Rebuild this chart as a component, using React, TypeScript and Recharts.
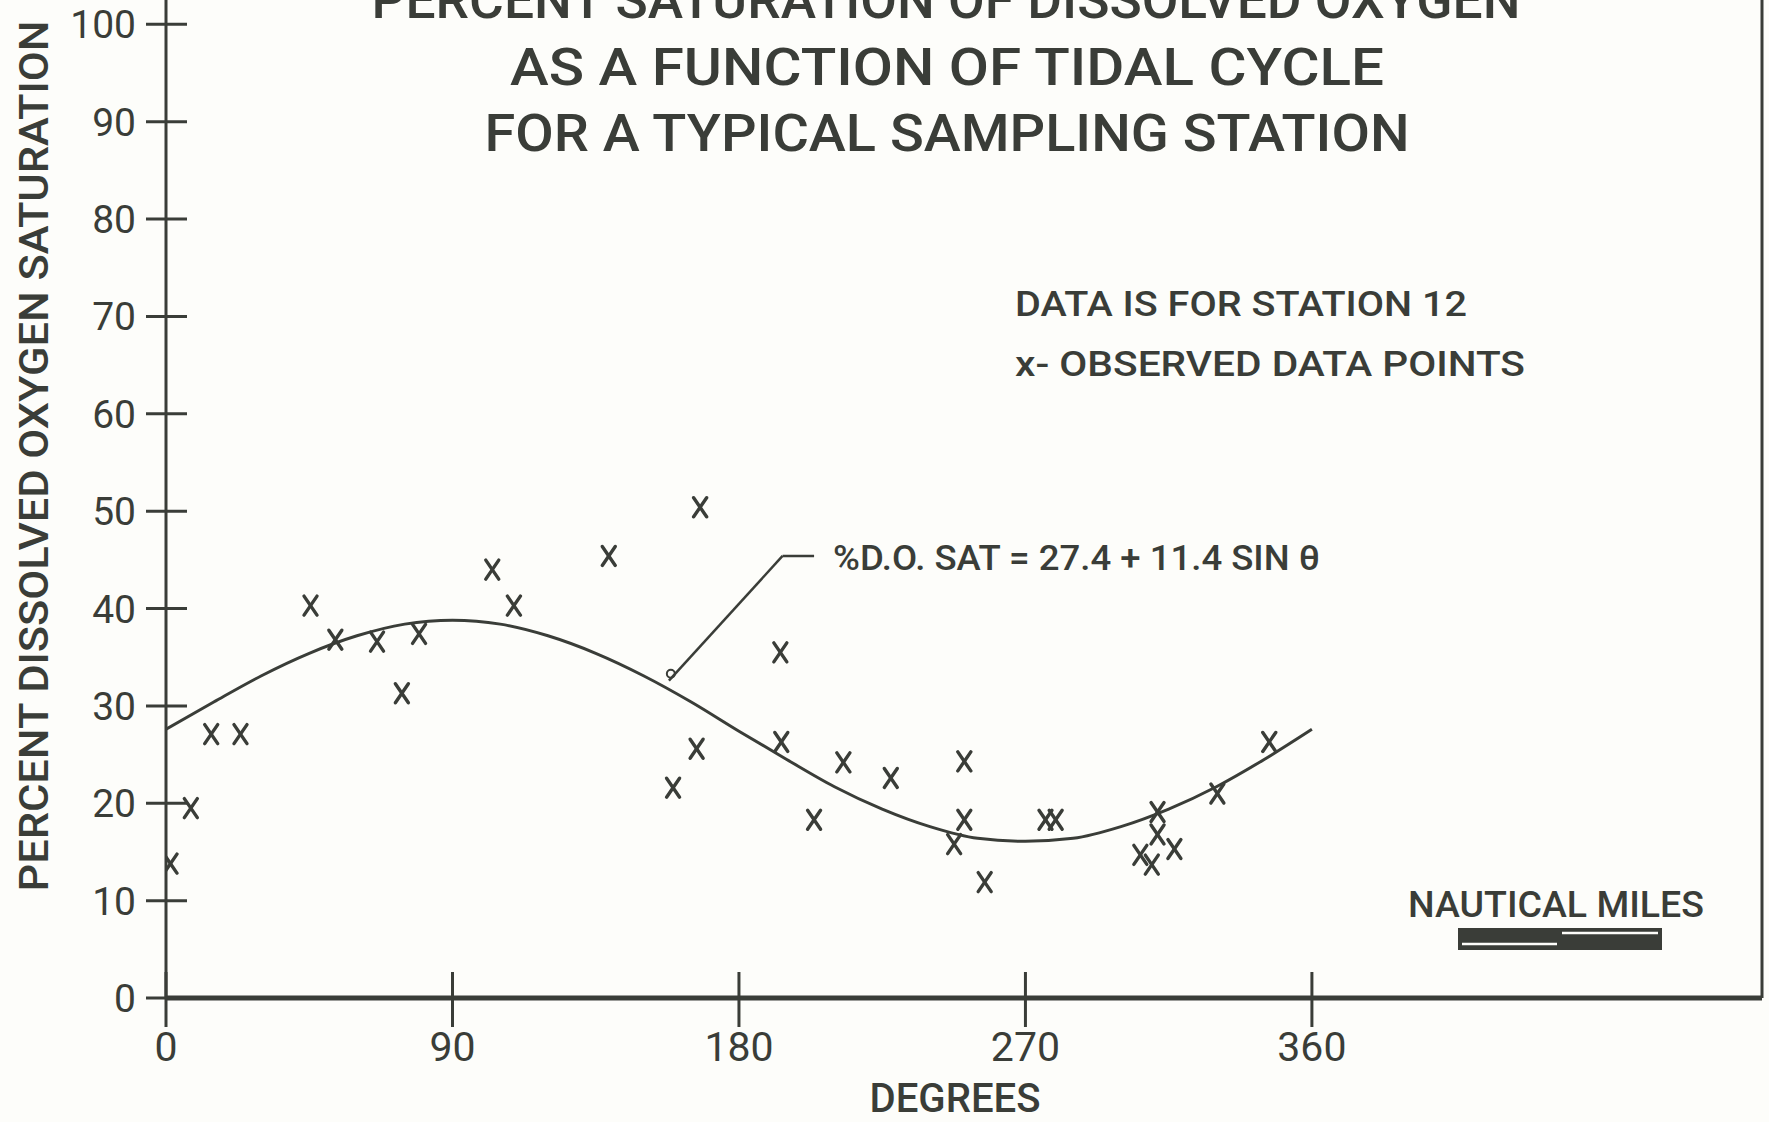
import { ComposedChart, Line, Scatter, XAxis, YAxis, ReferenceLine, ReferenceDot } from 'recharts'

const xTicks = [0, 90, 180, 270, 360]
const yTicks = [0, 10, 20, 30, 40, 50, 60, 70, 80, 90, 100]

// observed points (x marks)
const obsDeg = [1.4, 7.8, 14.2, 23.4, 45.4, 53.2, 66.3, 74.1, 79.5, 102.5, 109.3, 139.1, 159.3, 166.7, 167.8, 193.0, 193.3, 203.6, 212.8, 227.7, 247.6, 250.8, 250.8, 257.2, 276.3, 279.5, 306.1, 309.7, 311.5, 311.5, 316.8, 330.3, 346.6]
const obsPct = [13.8, 19.5, 27.1, 27.1, 40.3, 36.8, 36.6, 31.3, 37.4, 44.0, 40.3, 45.4, 21.6, 25.6, 50.4, 35.5, 26.3, 18.3, 24.2, 22.6, 15.8, 24.3, 18.3, 11.9, 18.3, 18.3, 14.7, 13.7, 19.1, 16.8, 15.3, 21.0, 26.3]

// fitted curve, read every 15 degrees
const curveDeg = [0, 15, 30, 45, 60, 75, 90, 105, 120, 135, 150, 165, 180, 195, 210, 225, 240, 255, 270, 285, 300, 315, 330, 345, 360]
const curvePct = [27.6, 30.4, 33.1, 35.4, 37.2, 38.4, 38.8, 38.4, 37.2, 35.4, 33.1, 30.4, 27.4, 24.5, 21.7, 19.4, 17.6, 16.4, 16.1, 16.4, 17.6, 19.4, 21.7, 24.5, 27.6]

const observed = obsDeg.map((deg, i) => ({ deg, pct: obsPct[i] }))
const curve = curveDeg.map((deg, i) => ({ deg, pct: curvePct[i] }))

const X_MAX = 501.4
const Y_MAX = 102.5
const INK = '#3a3d38'
const PAPER = '#fdfdfa'
const FONT = "Roboto, 'DejaVu Sans', sans-serif"

const YTick = ({ x, y, payload }: any) => (
  <g>
    <line x1={x - 20} x2={x + 21} y1={y} y2={y} stroke={INK} strokeWidth={3} />
    <text x={x - 30} y={y} dy="0.36em" textAnchor="end" fontFamily={FONT} fontSize={39} fill={INK}>
      {payload.value}
    </text>
  </g>
)

const XTick = ({ x, y, payload }: any) => (
  <g>
    <line x1={x} x2={x} y1={y - 26} y2={y + 29} stroke={INK} strokeWidth={3} />
    <text x={x} y={y + 63} textAnchor="middle" fontFamily={FONT} fontSize={41} fill={INK}>
      {payload.value}
    </text>
  </g>
)

const XMark = ({ cx, cy }: any) => (
  <g stroke={INK} strokeWidth={3.4} strokeLinecap="round">
    <line x1={cx - 6.5} y1={cy - 9.5} x2={cx + 6.5} y2={cy + 9.5} />
    <line x1={cx + 6.5} y1={cy - 9.5} x2={cx - 6.5} y2={cy + 9.5} />
  </g>
)

const txt = { fontFamily: FONT, fill: INK }

const App = () => {
  const pageStyle: React.CSSProperties = {
    position: 'absolute',
    top: 0,
    left: 0,
    width: 1769,
    height: 1122,
    background: PAPER,
    overflow: 'hidden',
  }

  return (
    <div style={pageStyle}>
      <ComposedChart width={1769} height={1122} margin={{ top: 0, right: 7, bottom: 64, left: 106 }}>
        <XAxis
          type="number"
          dataKey="deg"
          domain={[0, X_MAX]}
          ticks={xTicks}
          interval={0}
          height={60}
          tickSize={0}
          tickMargin={0}
          tick={<XTick />}
          axisLine={{ stroke: INK, strokeWidth: 5 }}
          allowDataOverflow
        />
        <YAxis
          type="number"
          dataKey="pct"
          domain={[0, Y_MAX]}
          ticks={yTicks}
          interval={0}
          width={60}
          tickSize={0}
          tickMargin={0}
          tick={<YTick />}
          axisLine={{ stroke: INK, strokeWidth: 3 }}
          allowDataOverflow
        />
        <ReferenceLine x={X_MAX} stroke={INK} strokeWidth={3} />
        <Line
          data={curve}
          dataKey="pct"
          type="monotone"
          stroke={INK}
          strokeWidth={3}
          dot={false}
          activeDot={false}
          isAnimationActive={false}
        />
        <Scatter data={observed} dataKey="pct" shape={<XMark />} isAnimationActive={false} />
        <ReferenceLine segment={[{ x: 158, y: 32.6 }, { x: 193.7, y: 45.4 }]} stroke={INK} strokeWidth={2.5} />
        <ReferenceLine segment={[{ x: 193.7, y: 45.4 }, { x: 203.6, y: 45.4 }]} stroke={INK} strokeWidth={2.5} />
        <ReferenceDot x={158.6} y={33.3} r={4} fill="none" stroke={INK} strokeWidth={2} />
      </ComposedChart>

      <svg width={1769} height={1122} style={{ position: 'absolute', top: 0, left: 0, pointerEvents: 'none' }}>
        <g {...txt} fontSize={52} fontWeight={500} textAnchor="middle">
          <text x={946} y={18} textLength={1149} lengthAdjust="spacingAndGlyphs">PERCENT SATURATION OF DISSOLVED OXYGEN</text>
          <text x={947} y={85} textLength={874} lengthAdjust="spacingAndGlyphs">AS A FUNCTION OF TIDAL CYCLE</text>
          <text x={947} y={151} textLength={925} lengthAdjust="spacingAndGlyphs">FOR A TYPICAL SAMPLING STATION</text>
        </g>

        <text {...txt} fontSize={41} fontWeight={500} textAnchor="middle" transform="rotate(-90)" x={-456} y={48} textLength={871} lengthAdjust="spacingAndGlyphs">
          PERCENT DISSOLVED OXYGEN SATURATION
        </text>

        <text {...txt} fontSize={41} fontWeight={500} textAnchor="middle" x={955} y={1112} textLength={171} lengthAdjust="spacingAndGlyphs">
          DEGREES
        </text>

        <g {...txt} fontSize={35} fontWeight={500}>
          <text x={1015} y={316} textLength={452} lengthAdjust="spacingAndGlyphs">DATA  IS FOR STATION 12</text>
          <text x={1015} y={376} textLength={510} lengthAdjust="spacingAndGlyphs">x- OBSERVED  DATA POINTS</text>
          <text x={833} y={570} textLength={487} lengthAdjust="spacingAndGlyphs">%D.O. SAT = 27.4 + 11.4 SIN θ</text>
          <text x={1408} y={917} fontSize={37} textLength={296} lengthAdjust="spacingAndGlyphs">NAUTICAL MILES</text>
        </g>

        {/* scale bar */}
        <rect x={1458} y={928} width={204} height={22} fill={INK} />
        <line x1={1462} x2={1557} y1={944} y2={944} stroke={PAPER} strokeWidth={2.5} />
        <line x1={1562} x2={1658} y1={933} y2={933} stroke={PAPER} strokeWidth={2.5} />
      </svg>
    </div>
  )
}

export default App
